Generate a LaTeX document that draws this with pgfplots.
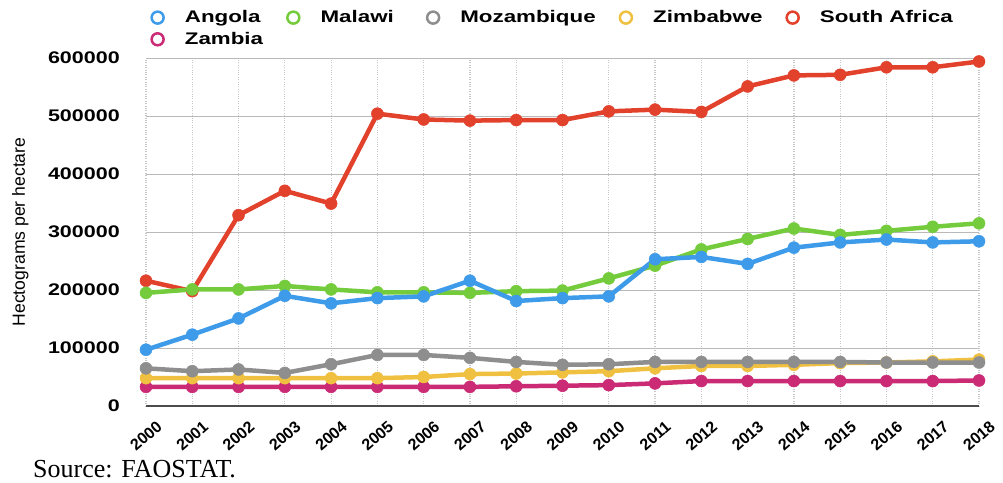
\documentclass[border=0pt]{standalone}
\usepackage{fontspec}
\setmainfont{Liberation Sans}
\newfontfamily\chartfont{Liberation Sans}[FakeStretch=1.28]
\newfontfamily\legfont{Liberation Sans}[FakeStretch=1.33]
\newfontfamily\srcfont{Liberation Serif}
\usepackage{pgfplots}
\pgfplotsset{compat=1.18}

\definecolor{angola}{HTML}{3D9BE9}
\definecolor{malawi}{HTML}{74CC3C}
\definecolor{mozamb}{HTML}{8E8E8E}
\definecolor{zimbab}{HTML}{F0C040}
\definecolor{safrica}{HTML}{E2412C}
\definecolor{zambia}{HTML}{CB2A74}

\newcommand{\tickfont}{\chartfont\bfseries\fontsize{16.8pt}{20pt}\selectfont}
\newcommand{\xtfont}{\bfseries\fontsize{16pt}{18pt}\selectfont}
\newcommand{\lgfont}{\legfont\bfseries\fontsize{16.8pt}{20pt}\selectfont}

\begin{document}
\begin{tikzpicture}
\path[use as bounding box] (0,0) rectangle (1003pt,482pt);
\begin{axis}[
    at={(146pt,76pt)}, anchor=south west,
    scale only axis,
    width=833pt, height=348pt,
    xmin=2000, xmax=2018,
    ymin=0, ymax=600000,
    scaled y ticks=false,
    xtick={2000,2001,...,2018},
    xticklabels={2000,2001,2002,2003,2004,2005,2006,2007,2008,2009,2010,2011,2012,2013,2014,2015,2016,2017,2018},
    ytick={0,100000,200000,300000,400000,500000,600000},
    yticklabels={0,100000,200000,300000,400000,500000,600000},
    axis line style={draw=none},
    tick style={draw=none},
    xmajorgrids, ymajorgrids,
    x grid style={gray!45, dotted, line width=1.2pt},
    y grid style={gray!55, line width=1pt},
    yticklabel style={font=\tickfont, anchor=east, inner sep=0pt, xshift=-26pt},
    xticklabel style={font=\xtfont, yshift=-30pt, rotate=41, anchor=center, inner sep=0pt},
    ylabel={Hectograms per hectare},
    every axis y label/.style={at={(axis description cs:-0.151,0.5)}, rotate=90, anchor=center,
        font=\fontsize{17.6pt}{20pt}\selectfont},
    legend columns=5,
    reverse legend,
    legend cell align=left,
    legend style={at={(0.005,1.142)}, anchor=north west, draw=none, fill=none,
        inner sep=0pt, font=\lgfont, row sep=4pt,
        /tikz/every even column/.append style={column sep=21pt},
        /tikz/every odd column/.append style={column sep=18pt}},
    legend image code/.code={\draw[line width=2.5pt, fill=white, solid] (6pt,0pt) circle (6pt);},
    every axis plot/.append style={line width=4.5pt, mark=*, mark size=6pt,
        mark options={solid, line width=0.5pt}},
]
% base line at zero
\addplot[black!70, line width=1.6pt, mark=none, forget plot] coordinates {(2000,0) (2018,0)};

% Zambia
\addplot[color=zambia] coordinates {
(2000,33000) (2001,33000) (2002,33000) (2003,33000) (2004,33000) (2005,33000)
(2006,33000) (2007,33000) (2008,34000) (2009,35000) (2010,36000) (2011,39000)
(2012,43000) (2013,43000) (2014,43000) (2015,43000) (2016,43000) (2017,43000) (2018,44000)
};
\addlegendentry{Zambia}
% South Africa
\addplot[color=safrica] coordinates {
(2000,216000) (2001,198000) (2002,329000) (2003,371000) (2004,349000) (2005,504000)
(2006,494000) (2007,492000) (2008,493000) (2009,493000) (2010,508000) (2011,511000)
(2012,507000) (2013,551000) (2014,570000) (2015,571000) (2016,584000) (2017,584000) (2018,594000)
};
\addlegendentry{South Africa}
% Zimbabwe
\addplot[color=zimbab] coordinates {
(2000,48000) (2001,48000) (2002,48000) (2003,48000) (2004,48000) (2005,48000)
(2006,50000) (2007,55000) (2008,56000) (2009,58000) (2010,60000) (2011,65000)
(2012,69000) (2013,69000) (2014,71000) (2015,74000) (2016,75000) (2017,77000) (2018,80000)
};
\addlegendentry{Zimbabwe}
% Mozambique
\addplot[color=mozamb] coordinates {
(2000,65000) (2001,60000) (2002,63000) (2003,57000) (2004,72000) (2005,88000)
(2006,88000) (2007,83000) (2008,76000) (2009,71000) (2010,72000) (2011,76000)
(2012,76000) (2013,76000) (2014,76000) (2015,76000) (2016,75000) (2017,75000) (2018,75000)
};
\addlegendentry{Mozambique}
% Malawi
\addplot[color=malawi] coordinates {
(2000,195000) (2001,201000) (2002,201000) (2003,207000) (2004,201000) (2005,196000)
(2006,196000) (2007,195000) (2008,198000) (2009,199000) (2010,220000) (2011,242000)
(2012,270000) (2013,288000) (2014,306000) (2015,295000) (2016,302000) (2017,309000) (2018,315000)
};
\addlegendentry{Malawi\rule{9pt}{0pt}}
% Angola
\addplot[color=angola] coordinates {
(2000,97000) (2001,123000) (2002,151000) (2003,190000) (2004,177000) (2005,186000)
(2006,189000) (2007,216000) (2008,181000) (2009,186000) (2010,189000) (2011,253000)
(2012,257000) (2013,245000) (2014,273000) (2015,282000) (2016,287000) (2017,282000) (2018,284000)
};
\addlegendentry{Angola}
\end{axis}
\node[anchor=base west, inner sep=0pt, font=\srcfont\fontsize{26pt}{30pt}\selectfont] at (33pt,5pt) {Source: FAOSTAT.};
\end{tikzpicture}
\end{document}
